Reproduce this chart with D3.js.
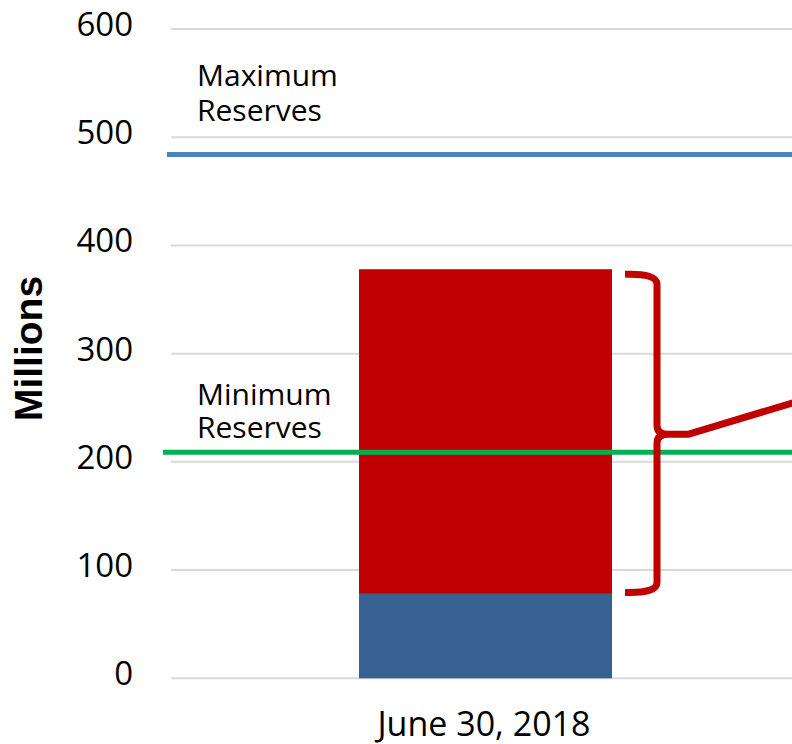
<!DOCTYPE html>
<html>
<head>
<meta charset="utf-8">
<script src="https://cdn.jsdelivr.net/npm/d3@7"></script>
<style>
  html, body { margin: 0; padding: 0; background: #fff; }
  svg { display: block; }
</style>
</head>
<body>
<svg id="chart" width="792" height="744"></svg>
<script>
// ---- data ----
const categories = ["June 30, 2018"];
const baseValues = [78];        // blue segment
const excessValues = [300];     // red segment stacked on top
const maxReserves = 484;
const minReserves = 209;
const yTicks = [0, 100, 200, 300, 400, 500, 600];
const yLabel = "Millions";
const maxLabel = ["Maximum", "Reserves"];
const minLabel = ["Minimum", "Reserves"];

// ---- layout ----
const W = 792, H = 744;
const plotLeft = 171, plotRight = 800;
const svg = d3.select("#chart");

const y = d3.scaleLinear().domain([0, 600]).range([678.3, 29]);
const x = d3.scaleBand().domain(categories).range([plotLeft, plotRight]).padding(0.4263);

const font = "'Open Sans', 'DejaVu Sans', sans-serif";
const weight = 500;

// gridlines
svg.append("g").selectAll("line").data(yTicks).join("line")
  .attr("x1", plotLeft).attr("x2", W)
  .attr("y1", d => y(d)).attr("y2", d => y(d))
  .attr("stroke", "#d9d9d9").attr("stroke-width", 2);

// tick labels
svg.append("g").selectAll("text").data(yTicks).join("text")
  .attr("x", 133).attr("y", d => y(d) + 7)
  .attr("text-anchor", "end")
  .attr("font-family", font).attr("font-size", 33).attr("font-weight", weight)
  .attr("fill", "#000")
  .text(d => d);

// y label
svg.append("text")
  .attr("transform", `translate(42, 348.5) rotate(-90)`)
  .attr("text-anchor", "middle")
  .attr("font-family", "'Liberation Sans', Arial, sans-serif")
  .attr("font-weight", "bold").attr("font-size", 39)
  .attr("fill", "#000")
  .text(yLabel);

// bars
const stackData = categories.map((c, i) => ({cat: c, base: baseValues[i], excess: excessValues[i]}));
const series = d3.stack().keys(["base", "excess"])(stackData);
const colors = {base: "#386193", excess: "#c00000"};
svg.append("g").selectAll("g").data(series).join("g")
  .attr("fill", s => colors[s.key])
  .selectAll("rect").data(s => s).join("rect")
  .attr("x", d => x(d.data.cat))
  .attr("width", x.bandwidth())
  .attr("y", d => y(d[1]))
  .attr("height", d => y(d[0]) - y(d[1]));

// reserve lines
svg.append("line")
  .attr("x1", 167).attr("x2", W)
  .attr("y1", y(maxReserves)).attr("y2", y(maxReserves))
  .attr("stroke", "#4f81bd").attr("stroke-width", 5);
svg.append("line")
  .attr("x1", 163).attr("x2", W)
  .attr("y1", y(minReserves)).attr("y2", y(minReserves))
  .attr("stroke", "#00b050").attr("stroke-width", 5);

// annotations (one text per line)
function multiline(lines, x0, yBase, lh) {
  lines.forEach((l, i) => svg.append("text")
    .attr("x", x0).attr("y", yBase + i * lh)
    .attr("font-family", font).attr("font-size", 30).attr("font-weight", weight)
    .attr("fill", "#000").text(l));
}
multiline(maxLabel, 197, y(maxReserves) - 68.5, 34.5);
multiline(minLabel, 197, y(minReserves) - 47, 33);

// brace
const cat = categories[0];
const bRight = x(cat) + x.bandwidth();
const bTop = y(baseValues[0] + excessValues[0]) + 5;
const bBot = y(baseValues[0]) - 1.5;
const bMid = (bTop + bBot) / 2 + 1;
const bx0 = bRight + 13, bx1 = bRight + 45;
const brace = d3.path();
brace.moveTo(bx0, bTop);
brace.quadraticCurveTo(bx1, bTop - 1, bx1, bTop + 10);
brace.lineTo(bx1, bMid - 9);
brace.quadraticCurveTo(bx1, bMid, bx1 + 11, bMid);
brace.lineTo(bx1 + 31, bMid);
brace.lineTo(bx1 + 31 + 110, bMid - 33);
brace.moveTo(bx0, bBot);
brace.quadraticCurveTo(bx1, bBot + 1, bx1, bBot - 10);
brace.lineTo(bx1, bMid + 9);
brace.quadraticCurveTo(bx1, bMid, bx1 + 11, bMid);
svg.append("path")
  .attr("d", brace.toString())
  .attr("fill", "none")
  .attr("stroke", "#c00000").attr("stroke-width", 7)
  .attr("stroke-linejoin", "round");

// category label
svg.append("text")
  .attr("x", x(cat) + x.bandwidth() / 2 - 1.5).attr("y", 736)
  .attr("text-anchor", "middle")
  .attr("font-family", font).attr("font-size", 34).attr("font-weight", weight)
  .attr("fill", "#000")
  .text(cat);
</script>
</body>
</html>
